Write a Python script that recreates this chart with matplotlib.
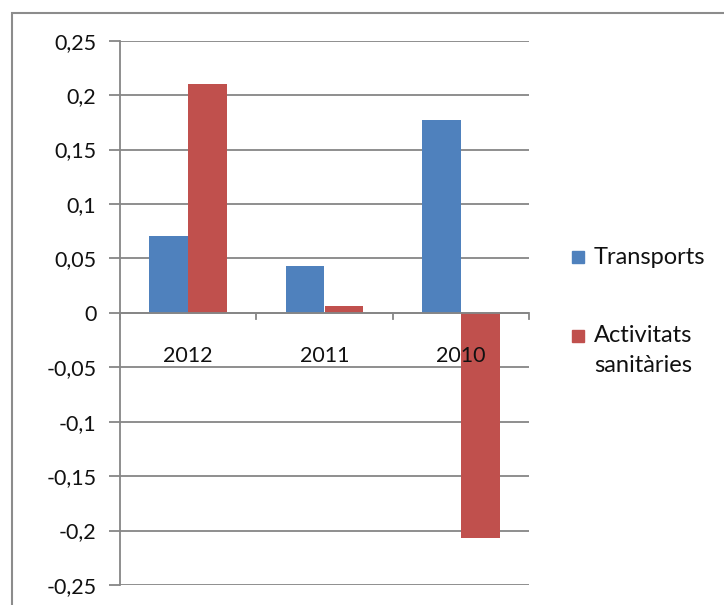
import numpy as np
import matplotlib.pyplot as plt
from matplotlib.patches import Rectangle

years = ["2012", "2011", "2010"]
transports = [0.071, 0.043, 0.177]
sanitaries = [0.210, 0.006, -0.207]
series_names = ["Transports", "Activitats\nsanitàries"]
yticks = [0.25, 0.2, 0.15, 0.1, 0.05, 0, -0.05, -0.1, -0.15, -0.2, -0.25]

blue = "#4F81BD"
red = "#C0504D"
grey = "#868686"
txt = "#111111"

plt.rcParams["font.family"] = ["Lato", "DejaVu Sans"]

fig = plt.figure(figsize=(7.24, 6.05), dpi=100)
ax = fig.add_axes([120 / 724, 1 - 585 / 605, 409 / 724, 544.3 / 605])

x = np.arange(len(years))
width = 1 / 3.5
ax.bar(x - width / 2, transports, width, color=blue, zorder=2)
ax.bar(x + width / 2, sanitaries, width, color=red, zorder=2)

ax.set_xlim(-0.5, len(years) - 0.5)
ax.set_ylim(-0.25, 0.25)
ax.set_yticks(yticks)
ax.set_yticklabels([f"{v:g}".replace(".", ",") for v in yticks])
ax.yaxis.grid(True, color=grey, lw=1.3, zorder=0)
ax.tick_params(axis="y", length=8, width=1.3, color=grey, pad=9,
               labelsize=15.5, labelcolor=txt)
ax.set_xticks([])

for s in ["top", "right", "bottom"]:
    ax.spines[s].set_visible(False)
ax.spines["left"].set_color(grey)
ax.spines["left"].set_linewidth(1.3)

# category axis at zero
ax.axhline(0, color=grey, lw=1.3, zorder=3)
for b in np.arange(len(years) + 1) - 0.5:
    ax.plot([b, b], [0, -0.006], color=grey, lw=1.3, zorder=3, clip_on=False)
for i, y in enumerate(years):
    ax.text(i, -0.04, y, ha="center", va="center", fontsize=15.5,
            color=txt, zorder=5)

# legend
fig.patches.append(Rectangle((572 / 724, 1 - 263 / 605), 12 / 724, 12 / 605,
                             transform=fig.transFigure, color=blue))
fig.text(594 / 724, 1 - 257 / 605, series_names[0], fontsize=17,
         va="center", color=txt)
fig.patches.append(Rectangle((572 / 724, 1 - 342 / 605), 12 / 724, 12 / 605,
                             transform=fig.transFigure, color=red))
fig.text(594 / 724, 1 - 325 / 605, series_names[1], fontsize=17,
         va="top", color=txt, linespacing=1.55)

# chart border
fig.patches.append(Rectangle((12 / 724, -0.1), 1.2, 1 - 13 / 605 + 0.1,
                             transform=fig.transFigure, fill=False,
                             edgecolor="#8c8c8c", lw=1.5))

fig.savefig("out.png", dpi=100)
